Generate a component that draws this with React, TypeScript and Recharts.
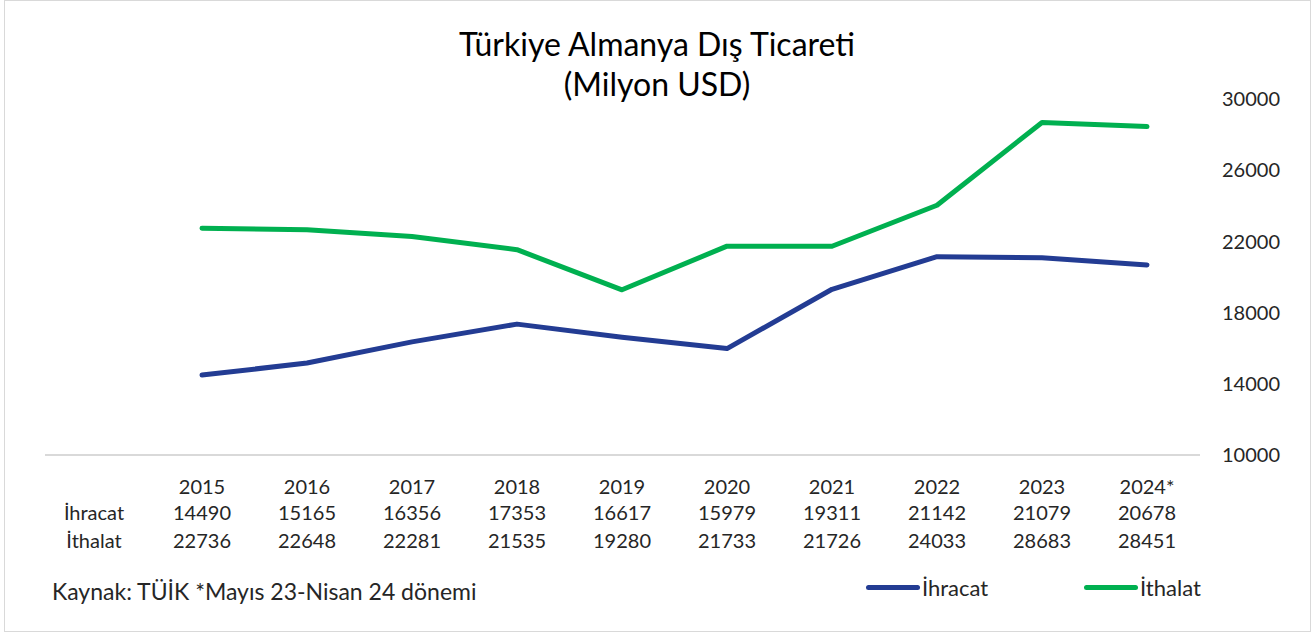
import React from 'react';
import { LineChart, Line, XAxis, YAxis } from 'recharts';

const years = ['2015', '2016', '2017', '2018', '2019', '2020', '2021', '2022', '2023', '2024*'];
const ihracat = [14490, 15165, 16356, 17353, 16617, 15979, 19311, 21142, 21079, 20678];
const ithalat = [22736, 22648, 22281, 21535, 19280, 21733, 21726, 24033, 28683, 28451];
const yTicks = [10000, 14000, 18000, 22000, 26000, 30000];

const series = [
  { key: 'ihracat', name: 'İhracat', color: '#233C93', values: ihracat },
  { key: 'ithalat', name: 'İthalat', color: '#00B050', values: ithalat },
];

const data = years.map((year, i) => ({ year, ihracat: ihracat[i], ithalat: ithalat[i] }));

const FONT = 'Lato, "Open Sans", sans-serif';
const TEXT = '#262626';

// data table under the axis: year row + one row per series
const TableTick = (props: any) => {
  const { x, y, payload } = props;
  const i = payload.index;
  const rows = [years[i], ...series.map((s) => String(s.values[i]))];
  const offs = [23, 49, 77];
  return (
    <g>
      {rows.map((t, r) => (
        <text key={r} x={x} y={y + offs[r]} textAnchor="middle" dominantBaseline="central"
          fontSize={20} fontFamily={FONT} fill={TEXT}>{t}</text>
      ))}
      {i === 0 && series.map((s, r) => (
        <text key={s.key} x={x - 108} y={y + offs[r + 1]} textAnchor="middle" dominantBaseline="central"
          fontSize={20} fontFamily={FONT} fill={TEXT}>{s.name}</text>
      ))}
    </g>
  );
};

export default function App() {
  return (
    <div style={{ position: 'absolute', left: 0, top: 0, width: 1312, height: 633, background: '#fff' }}>
      <div style={{ position: 'absolute', left: 4, top: 0, width: 1305, height: 630, border: '1px solid #d9d9d9' }} />
      <div style={{ position: 'absolute', left: 0, top: 24, width: 1314, textAlign: 'center', fontFamily: FONT,
        fontSize: 32, lineHeight: '40px', color: '#000' }}>
        Türkiye Almanya Dış Ticareti<br />(Milyon USD)
      </div>
      <LineChart width={1312} height={633} data={data} margin={{ top: 99, right: 0, bottom: 0, left: 45 }}>
        <XAxis dataKey="year" scale="point" height={178} padding={{ left: 157, right: 53 }}
          axisLine={{ stroke: '#d9d9d9', strokeWidth: 2 }} tickLine={false} tick={<TableTick />} interval={0} />
        <YAxis orientation="right" width={112} domain={[10000, 30000]} ticks={yTicks} axisLine={false} tickLine={false}
          tickMargin={16} tick={{ fontSize: 20, fontFamily: FONT, fill: TEXT, textAnchor: 'start' }} />
        {series.map((s) => (
          <Line key={s.key} dataKey={s.key} name={s.name} stroke={s.color} strokeWidth={5} dot={false}
            strokeLinecap="round" strokeLinejoin="round" isAnimationActive={false} />
        ))}
      </LineChart>
      <div style={{ position: 'absolute', left: 52, top: 577, fontFamily: FONT, fontSize: 23, color: TEXT, whiteSpace: 'nowrap' }}>
        Kaynak: TÜİK *Mayıs 23-Nisan 24 dönemi
      </div>
      {series.map((s, i) => (
        <div key={s.key} style={{ position: 'absolute', left: 866 + i * 218, top: 574, display: 'flex', alignItems: 'center',
          fontFamily: FONT, fontSize: 22, color: TEXT }}>
          <span style={{ display: 'inline-block', width: 54, height: 5, borderRadius: 3, background: s.color, marginRight: 2 }} />
          {s.name}
        </div>
      ))}
    </div>
  );
}
